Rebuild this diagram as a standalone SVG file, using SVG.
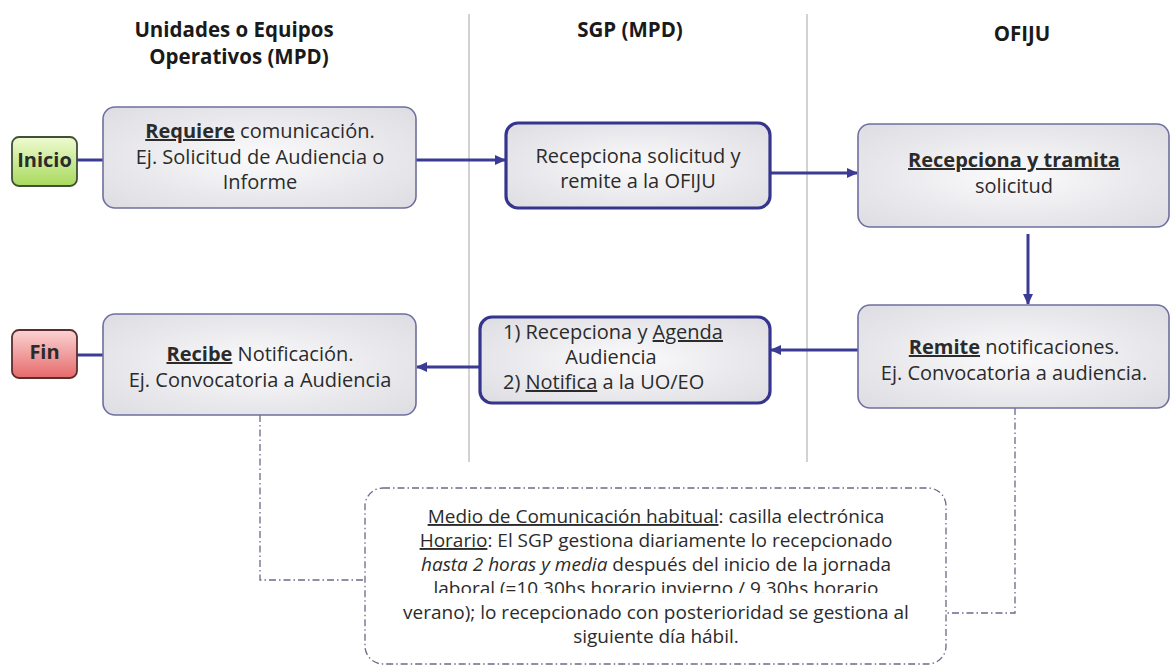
<svg xmlns="http://www.w3.org/2000/svg" width="1172" height="667" viewBox="0 0 1172 667">
<style>
.t{font-family:"Open Sans","Liberation Sans",sans-serif;font-size:20px;fill:#2b2b2b}
.n{font-family:"Open Sans","Liberation Sans",sans-serif;font-size:19px;fill:#2b2b2b}
.h{font-family:"Open Sans","Liberation Sans",sans-serif;font-size:20.5px;font-weight:bold;fill:#1a1a1a}
.b{font-weight:bold}
.u{text-decoration:underline}
.box{fill:url(#gBox);stroke:#6f6f9f;stroke-width:1.6}
.tbox{fill:url(#gBox);stroke:#35358e;stroke-width:3.2}
.sep{stroke:#b4b4b4;stroke-width:1.2}
.con{stroke:#3b3b96;stroke-width:3;fill:none}
.dd{stroke:#6a6a8a;stroke-width:1.3;fill:none;stroke-dasharray:7 3 1.5 3}
</style>
<defs>
<radialGradient id="gBox" cx="0.5" cy="0.5" r="0.7">
<stop offset="0" stop-color="#fbfbfc"/>
<stop offset="1" stop-color="#dcdce2"/>
</radialGradient>
<linearGradient id="gIni" x1="0" y1="0" x2="0" y2="1">
<stop offset="0" stop-color="#effbd2"/>
<stop offset="1" stop-color="#a7d95c"/>
</linearGradient>
<linearGradient id="gFin" x1="0" y1="0" x2="0" y2="1">
<stop offset="0" stop-color="#fbd3d3"/>
<stop offset="1" stop-color="#e66a6a"/>
</linearGradient>
<marker id="ar" markerWidth="12" markerHeight="12" refX="10" refY="6" orient="auto" markerUnits="userSpaceOnUse">
<path d="M0,1 L11,6 L0,11 Z" fill="#3b3b96"/>
</marker>
<clipPath id="clipLab"><rect x="360" y="572" width="600" height="21"/></clipPath>
</defs>

<g id="lanes">
<line class="sep" x1="469" y1="14" x2="469" y2="462"/>
<line class="sep" x1="807" y1="14" x2="807" y2="462"/>
<text class="h" x="234" y="37" text-anchor="middle">Unidades o Equipos</text>
<text class="h" x="239" y="64" text-anchor="middle">Operativos (MPD)</text>
<text class="h" x="630" y="37" text-anchor="middle">SGP (MPD)</text>
<text class="h" x="1022" y="41" text-anchor="middle">OFIJU</text>
</g>

<g id="connectors">
<line class="con" x1="77" y1="160" x2="103" y2="160"/>
<line class="con" x1="416" y1="160" x2="505" y2="160" marker-end="url(#ar)"/>
<line class="con" x1="770" y1="173" x2="857" y2="173" marker-end="url(#ar)"/>
<line class="con" x1="1028" y1="234" x2="1028" y2="304" marker-end="url(#ar)"/>
<line class="con" x1="858" y1="350" x2="771" y2="350" marker-end="url(#ar)"/>
<line class="con" x1="480" y1="367" x2="417" y2="367" marker-end="url(#ar)"/>
<line class="con" x1="103" y1="355" x2="77" y2="355"/>
<path class="dd" d="M260,415 V580 H365"/>
<path class="dd" d="M1015,408 V613 H946"/>
</g>

<g id="inicio">
<rect x="12" y="137" width="65" height="49" rx="7" fill="url(#gIni)" stroke="#3f4f38" stroke-width="1.8"/>
<text class="t b" x="44.5" y="167" text-anchor="middle" font-size="15">Inicio</text>
</g>

<g id="requiere">
<rect class="box" x="103" y="107" width="313" height="101" rx="12"/>
<text class="t" x="260" y="138" text-anchor="middle"><tspan class="b u">Requiere</tspan> comunicación.</text>
<text class="t" x="260" y="164" text-anchor="middle">Ej. Solicitud de Audiencia o</text>
<text class="t" x="260" y="189" text-anchor="middle">Informe</text>
</g>

<g id="recepciona-sgp">
<rect class="tbox" x="506" y="123" width="264" height="85" rx="12"/>
<text class="t" x="638" y="163" text-anchor="middle">Recepciona solicitud y</text>
<text class="t" x="638" y="188" text-anchor="middle">remite a la OFIJU</text>
</g>

<g id="recepciona-ofiju">
<rect class="box" x="858" y="124" width="311" height="103" rx="12"/>
<text class="t b u" x="1014" y="167" text-anchor="middle" font-size="19.5">Recepciona y tramita</text>
<text class="t" x="1014" y="193" text-anchor="middle">solicitud</text>
</g>

<g id="remite">
<rect class="box" x="858" y="305" width="311" height="103" rx="12"/>
<text class="t" x="1014" y="354" text-anchor="middle"><tspan class="b u">Remite</tspan> notificaciones.</text>
<text class="t" x="1014" y="380" text-anchor="middle">Ej. Convocatoria a audiencia.</text>
</g>

<g id="agenda">
<rect class="tbox" x="480" y="317" width="290" height="86" rx="12"/>
<text class="t" x="503" y="339">1) Recepciona y <tspan class="u">Agenda</tspan></text>
<text class="t" x="611" y="364" text-anchor="middle">Audiencia</text>
<text class="t" x="503" y="389">2) <tspan class="u">Notifica</tspan> a la UO/EO</text>
</g>

<g id="recibe">
<rect class="box" x="103" y="314" width="313" height="101" rx="12"/>
<text class="t" x="260" y="361" text-anchor="middle"><tspan class="b u">Recibe</tspan> Notificación.</text>
<text class="t" x="260" y="387" text-anchor="middle">Ej. Convocatoria a Audiencia</text>
</g>

<g id="fin">
<rect x="12" y="330" width="65" height="48" rx="7" fill="url(#gFin)" stroke="#5a2e2e" stroke-width="1.8"/>
<text class="t b" x="44.5" y="359" text-anchor="middle" font-size="15">Fin</text>
</g>

<g id="nota">
<rect class="dd" x="365" y="488" width="581" height="176" rx="18" fill="#ffffff"/>
<text class="n" x="656" y="523" text-anchor="middle"><tspan class="u">Medio de Comunicación habitual</tspan>: casilla electrónica</text>
<text class="n" x="656" y="547" text-anchor="middle"><tspan class="u">Horario</tspan>: El SGP gestiona diariamente lo recepcionado</text>
<text class="n" x="656" y="571" text-anchor="middle"><tspan font-style="italic">hasta 2 horas y media</tspan> después del inicio de la jornada</text>
<text class="n" x="656" y="595" text-anchor="middle" clip-path="url(#clipLab)">laboral (=10.30hs horario invierno / 9.30hs horario</text>
<text class="n" x="656" y="619" text-anchor="middle">verano); lo recepcionado con posterioridad se gestiona al</text>
<text class="n" x="656" y="643" text-anchor="middle">siguiente día hábil.</text>
</g>
</svg>
